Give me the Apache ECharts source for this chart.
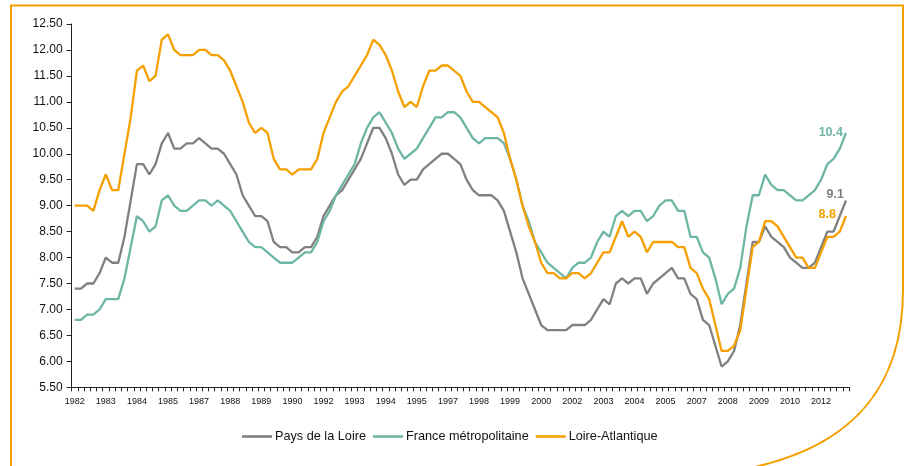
<!DOCTYPE html>
<html>
<head>
<meta charset="utf-8">
<script src="https://cdn.jsdelivr.net/npm/echarts@6/dist/echarts.min.js"></script>
<style>
html,body{margin:0;padding:0;background:#fff;}
#chart{width:910px;height:466px;}
</style>
</head>
<body>
<div id="chart"></div>
<script>
// Quarterly categories 1982 T1 .. 2013 T1
const firstYear = 1982;
const lastYear = 2013;
const categories = [];
for (let y = firstYear; y <= lastYear; y++) {
  for (let q = 1; q <= 4; q++) {
    if (y === lastYear && q > 1) break;
    categories.push(y + ' T' + q);
  }
}

const seriesNames = ['Pays de la Loire', 'France métropolitaine', 'Loire-Atlantique'];

const paysDeLaLoire = [
  7.4, 7.4, 7.5, 7.5, 7.7, 8.0, 7.9, 7.9, 8.4, 9.1,
  9.8, 9.8, 9.6, 9.8, 10.2, 10.4, 10.1, 10.1, 10.2, 10.2,
  10.3, 10.2, 10.1, 10.1, 10.0, 9.8, 9.6, 9.2, 9.0, 8.8,
  8.8, 8.7, 8.3, 8.2, 8.2, 8.1, 8.1, 8.2, 8.2, 8.4,
  8.8, 9.0, 9.2, 9.3, 9.5, 9.7, 9.9, 10.2, 10.5, 10.5,
  10.3, 10.0, 9.6, 9.4, 9.5, 9.5, 9.7, 9.8, 9.9, 10.0,
  10.0, 9.9, 9.8, 9.5, 9.3, 9.2, 9.2, 9.2, 9.1, 8.9,
  8.5, 8.1, 7.6, 7.3, 7.0, 6.7, 6.6, 6.6, 6.6, 6.6,
  6.7, 6.7, 6.7, 6.8, 7.0, 7.2, 7.1, 7.5, 7.6, 7.5,
  7.6, 7.6, 7.3, 7.5, 7.6, 7.7, 7.8, 7.6, 7.6, 7.3,
  7.2, 6.8, 6.7, 6.3, 5.9, 6.0, 6.2, 6.7, 7.5, 8.3,
  8.3, 8.6, 8.4, 8.3, 8.2, 8.0, 7.9, 7.8, 7.8, 7.9,
  8.2, 8.5, 8.5, 8.8, 9.1
];

const franceMetro = [
  6.8, 6.8, 6.9, 6.9, 7.0, 7.2, 7.2, 7.2, 7.6, 8.2,
  8.8, 8.7, 8.5, 8.6, 9.1, 9.2, 9.0, 8.9, 8.9, 9.0,
  9.1, 9.1, 9.0, 9.1, 9.0, 8.9, 8.7, 8.5, 8.3, 8.2,
  8.2, 8.1, 8.0, 7.9, 7.9, 7.9, 8.0, 8.1, 8.1, 8.3,
  8.7, 8.9, 9.2, 9.4, 9.6, 9.8, 10.2, 10.5, 10.7, 10.8,
  10.6, 10.4, 10.1, 9.9, 10.0, 10.1, 10.3, 10.5, 10.7, 10.7,
  10.8, 10.8, 10.7, 10.5, 10.3, 10.2, 10.3, 10.3, 10.3, 10.2,
  9.9, 9.5, 9.0, 8.7, 8.3, 8.1, 7.9, 7.8, 7.7, 7.6,
  7.8, 7.9, 7.9, 8.0, 8.3, 8.5, 8.4, 8.8, 8.9, 8.8,
  8.9, 8.9, 8.7, 8.8, 9.0, 9.1, 9.1, 8.9, 8.9, 8.4,
  8.4, 8.1, 8.0, 7.6, 7.1, 7.3, 7.4, 7.8, 8.6, 9.2,
  9.2, 9.6, 9.4, 9.3, 9.3, 9.2, 9.1, 9.1, 9.2, 9.3,
  9.5, 9.8, 9.9, 10.1, 10.4
];

const loireAtlantique = [
  9.0, 9.0, 9.0, 8.9, 9.3, 9.6, 9.3, 9.3, 10.0, 10.7,
  11.6, 11.7, 11.4, 11.5, 12.2, 12.3, 12.0, 11.9, 11.9, 11.9,
  12.0, 12.0, 11.9, 11.9, 11.8, 11.6, 11.3, 11.0, 10.6, 10.4,
  10.5, 10.4, 9.9, 9.7, 9.7, 9.6, 9.7, 9.7, 9.7, 9.9,
  10.4, 10.7, 11.0, 11.2, 11.3, 11.5, 11.7, 11.9, 12.2, 12.1,
  11.9, 11.6, 11.2, 10.9, 11.0, 10.9, 11.3, 11.6, 11.6, 11.7,
  11.7, 11.6, 11.5, 11.2, 11.0, 11.0, 10.9, 10.8, 10.7, 10.4,
  9.9, 9.5, 9.0, 8.6, 8.3, 7.9, 7.7, 7.7, 7.6, 7.6,
  7.7, 7.7, 7.6, 7.7, 7.9, 8.1, 8.1, 8.4, 8.7, 8.4,
  8.5, 8.4, 8.1, 8.3, 8.3, 8.3, 8.3, 8.2, 8.2, 7.8,
  7.7, 7.4, 7.2, 6.7, 6.2, 6.2, 6.3, 6.6, 7.4, 8.2,
  8.3, 8.7, 8.7, 8.6, 8.4, 8.2, 8.0, 8.0, 7.8, 7.8,
  8.1, 8.4, 8.4, 8.5, 8.8
];

const colors = ['#808080', '#6DB6A5', '#F5A000'];
const FONT = '"Liberation Sans", Arial, sans-serif';

// end-label placement per series: [distance, offsetY]
const endLabelPlacement = [[2, -6], [3, 0], [10, -1]];

function withEndLabel(values, idx) {
  return values.map((v, i) => {
    if (i !== values.length - 1) return v;
    return {
      value: v,
      label: {
        show: true,
        position: 'left',
        distance: endLabelPlacement[idx][0],
        offset: [0, endLabelPlacement[idx][1]],
        formatter: (p) => Number(p.value).toFixed(1),
        color: colors[idx],
        fontWeight: 'bold',
        fontSize: 12.5,
        fontFamily: FONT
      }
    };
  });
}

const allValues = [paysDeLaLoire, franceMetro, loireAtlantique];

const chart = echarts.init(document.getElementById('chart'), null, { renderer: 'canvas' });

chart.setOption({
  animation: false,
  backgroundColor: '#ffffff',
  color: colors,
  grid: { left: 71.6, right: 60.9, top: 24, bottom: 78.7, containLabel: false },
  legend: {
    data: seriesNames,
    left: 237,
    top: 425,
    icon: 'rect',
    itemWidth: 30,
    itemHeight: 2.6,
    itemGap: 7,
    textStyle: { fontFamily: FONT, fontSize: 12.7, color: '#111', padding: [0, 0, 0, -2] }
  },
  xAxis: {
    type: 'category',
    data: categories,
    boundaryGap: true,
    axisLine: { show: true, lineStyle: { color: '#222', width: 1 } },
    axisTick: { show: true, interval: 0, length: 4, lineStyle: { color: '#222', width: 1 } },
    axisLabel: {
      interval: 4,
      margin: 10,
      fontSize: 9,
      fontFamily: FONT,
      color: '#111',
      formatter: (v) => v.split(' ')[0]
    },
    splitLine: { show: false }
  },
  yAxis: {
    type: 'value',
    min: 5.5,
    max: 12.5,
    interval: 0.5,
    axisLine: { show: true, lineStyle: { color: '#222', width: 1 } },
    axisTick: { show: true, length: 5, lineStyle: { color: '#222', width: 1 } },
    axisLabel: {
      margin: 9,
      fontSize: 12,
      fontFamily: FONT,
      color: '#111',
      formatter: (v) => v.toFixed(2)
    },
    splitLine: { show: false }
  },
  series: seriesNames.map((name, idx) => ({
    name: name,
    type: 'line',
    data: withEndLabel(allValues[idx], idx),
    symbol: 'circle',
    symbolSize: 0,
    showSymbol: true,
    lineStyle: { width: 2.3, color: colors[idx] },
    itemStyle: { color: colors[idx] },
    z: 2 + idx
  })),
  graphic: [
    {
      type: 'polyline',
      silent: true,
      shape: { points: [[11, 470], [11, 5.5], [903, 5.5], [903, 290]] },
      style: { fill: null, stroke: '#F5A000', lineWidth: 2 }
    },
    {
      type: 'bezierCurve',
      silent: true,
      shape: { x1: 903, y1: 290, cpx1: 903, cpy1: 390, cpx2: 850, cpy2: 450, x2: 740, y2: 470 },
      style: { fill: null, stroke: '#F5A000', lineWidth: 2 }
    }
  ]
});
</script>
</body>
</html>
